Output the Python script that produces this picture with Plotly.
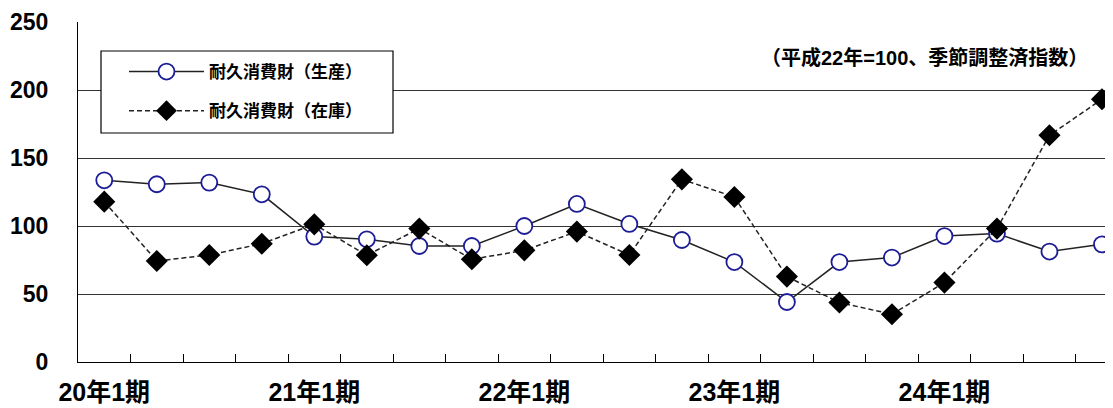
import plotly.graph_objects as go

# 四半期ラベル(20年1期〜24年4期)
quarters = [f"{y}年{q}期" for y in range(20, 25) for q in range(1, 5)]
# 耐久消費財(生産)
production = [133.6, 130.7, 131.9, 123.3, 92.2, 90.2, 85.3, 85.3, 100.0, 116.2,
              101.5, 89.7, 73.5, 44.1, 73.5, 76.8, 92.6, 94.4, 81.2, 86.5]
# 耐久消費財(在庫)
inventory = [117.9, 74.3, 78.7, 87.0, 101.2, 78.5, 98.1, 75.5, 82.1, 95.9,
             78.7, 134.3, 121.3, 62.8, 43.7, 35.1, 58.4, 98.1, 166.7, 193.2]
tick_text = [q if q.endswith("1期") else "" for q in quarters]
y_ticks = [0, 50, 100, 150, 200, 250]

font_family = "Liberation Sans, Noto Sans CJK JP"

# ページの余白(8px)を差し引いた座標系
OX, OY = 8, 8
L, T, PW, PH = 78 - OX, 22 - OY, 1035, 340


def px(x):
    return (x - OX - L) / PW


def py(y):
    return 1 - (y - OY - T) / PH


fig = go.Figure()
fig.add_trace(go.Scatter(
    x=quarters, y=production, name="耐久消費財（生産）", mode="lines+markers",
    line=dict(color="#222222", width=1.5),
    marker=dict(symbol="circle", size=16, color="white",
                line=dict(color="#1c1c96", width=1.8)),
    legendgroup="a",
))
fig.add_trace(go.Scatter(
    x=quarters, y=inventory, name="耐久消費財（在庫）", mode="lines+markers",
    line=dict(color="#222222", width=1.5, dash="5px,3px"),
    marker=dict(symbol="diamond", size=17, color="black"),
    legendgroup="b",
))

# 凡例の枠
fig.add_shape(type="rect", xref="paper", yref="paper",
              x0=px(101), x1=px(393), y0=py(133), y1=py(51),
              line=dict(color="black", width=1.2), fillcolor="white", layer="above")

fig.add_annotation(text="（平成22年=100、季節調整済指数）", xref="paper", yref="paper",
                   x=px(1090), y=py(58), xanchor="right", yanchor="middle",
                   showarrow=False, font=dict(size=20, color="black", family=font_family))

fig.update_layout(
    width=1113 - OX, height=408 - OY,
    margin=dict(l=L, r=0, t=T, b=408 - OY - T - PH),
    paper_bgcolor="white", plot_bgcolor="white",
    font=dict(family=font_family, color="black", size=18, weight="bold"),
    showlegend=True,
    legend=dict(x=px(124), y=py(54), xanchor="left", yanchor="top",
                bgcolor="rgba(0,0,0,0)", borderwidth=0, itemwidth=75,
                tracegroupgap=14, font=dict(size=17, weight="bold")),
)
fig.update_xaxes(
    type="category", range=[-0.5, 19.21], automargin=False, tickangle=0,
    tickmode="array", tickvals=quarters, ticktext=tick_text, tickson="boundaries",
    ticks="inside", ticklen=8, tickcolor="black", tickwidth=1.2, ticklabelstandoff=8,
    showline=True, linecolor="black", linewidth=1.2, showgrid=False,
    tickfont=dict(size=25, weight="bold"),
)
fig.update_yaxes(
    range=[0, 250], tickvals=y_ticks, showgrid=True, gridcolor="#333333", gridwidth=1.2,
    showline=True, linecolor="black", linewidth=1.2, zeroline=False, ticks="",
    automargin=False, ticklabelstandoff=24, tickfont=dict(size=23, weight="bold"),
)

fig.write_html("out.html")
